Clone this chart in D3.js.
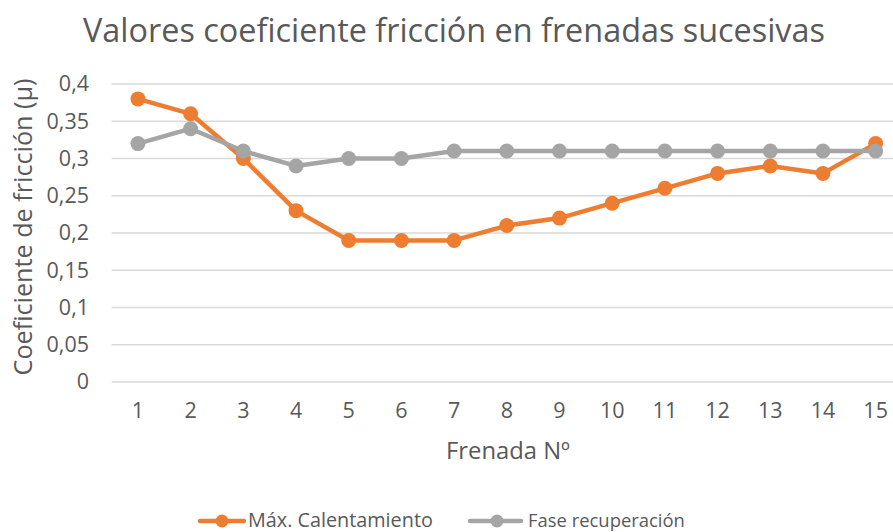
<!DOCTYPE html>
<html><head><meta charset="utf-8">
<script src="https://cdn.jsdelivr.net/npm/d3@7"></script>
<style>body{margin:0;background:#fff}svg{display:block}text{font-family:"Open Sans",sans-serif;fill:#595959}</style>
</head><body>
<script>
const categories = [1,2,3,4,5,6,7,8,9,10,11,12,13,14,15];
const maxCalentamiento = [0.38,0.36,0.30,0.23,0.19,0.19,0.19,0.21,0.22,0.24,0.26,0.28,0.29,0.28,0.32];
const faseRecuperacion = [0.32,0.34,0.31,0.29,0.30,0.30,0.31,0.31,0.31,0.31,0.31,0.31,0.31,0.31,0.31];
const yTicks = [0,0.05,0.1,0.15,0.2,0.25,0.3,0.35,0.4];
const seriesNames = ["Máx. Calentamiento","Fase recuperación"];
const colors = ["#ED7D31","#A5A5A5"];
const title = "Valores coeficiente fricción en frenadas sucesivas";

const W=893,H=532;
const svg=d3.select("body").append("svg").attr("width",W).attr("height",H);
const x=d3.scaleBand().domain(categories).range([111.6,902]);
const y=d3.scaleLinear().domain([0,0.4]).range([382,84]);
const fmt=d=>String(+d.toFixed(2)).replace(".",",");

function fitText(sel,target){const l=sel.node().getComputedTextLength();const fs=parseFloat(sel.attr("font-size"));sel.attr("font-size",fs*target/l);return fs*target/l;}

// grid
svg.append("g").selectAll("line").data(yTicks).join("line")
 .attr("x1",111.6).attr("x2",W).attr("y1",d=>y(d)).attr("y2",d=>y(d))
 .attr("stroke","#d9d9d9").attr("stroke-width",1.3);

const tickFs=21.5;

// y axis labels
const ya=svg.append("g").attr("transform","translate(89,0)")
 .call(d3.axisLeft(y).tickValues(yTicks).tickFormat(fmt).tickSize(0).tickPadding(0));
ya.select(".domain").remove();
ya.attr("font-size",tickFs).attr("font-family",null);
ya.selectAll("text").style("font-size",tickFs+"px").attr("fill","#595959");

// x axis labels
const xa=svg.append("g").attr("transform","translate(0,403)")
 .call(d3.axisBottom(x).tickSize(0).tickPadding(0));
xa.select(".domain").remove();
xa.attr("font-size",tickFs).attr("font-family",null);
xa.selectAll("text").style("font-size",tickFs+"px").attr("fill","#595959");

// lines
const data=[maxCalentamiento,faseRecuperacion];
const line=d3.line().x((d,i)=>x(categories[i])+x.bandwidth()/2).y(d=>y(d));
data.forEach((s,k)=>{
 const g=svg.append("g");
 g.append("path").attr("d",line(s)).attr("fill","none").attr("stroke",colors[k]).attr("stroke-width",4.5).attr("stroke-linejoin","round");
 g.selectAll("circle").data(s).join("circle")
  .attr("cx",(d,i)=>x(categories[i])+x.bandwidth()/2).attr("cy",d=>y(d)).attr("r",7.5).attr("fill",colors[k]);
});

// title
const t=svg.append("text").attr("x",454).attr("y",42).attr("text-anchor","middle").attr("font-size",28).text(title);
fitText(t,742);
// axis titles
const yt=svg.append("text").attr("transform","translate(32,227) rotate(-90)").attr("text-anchor","middle").attr("font-size",20).text("Coeficiente de fricción (μ)");
fitText(yt,297);
const xt=svg.append("text").attr("x",508).attr("y",459).attr("text-anchor","middle").attr("font-size",19).text("Frenada Nº");
fitText(xt,124);

// legend
const leg=[{x1:200,x2:244,cx:222,tx:248,tw:185},{x1:470,x2:521,cx:497,tx:528,tw:157}];
leg.forEach((l,k)=>{
 svg.append("line").attr("x1",l.x1).attr("x2",l.x2).attr("y1",521).attr("y2",521).attr("stroke",colors[k]).attr("stroke-width",4.5).attr("stroke-linecap","round");
 svg.append("circle").attr("cx",l.cx).attr("cy",521).attr("r",6.5).attr("fill",colors[k]);
 const tt=svg.append("text").attr("x",l.tx).attr("y",527).attr("font-size",17).text(seriesNames[k]);
 fitText(tt,l.tw);
});
</script>
</body></html>
